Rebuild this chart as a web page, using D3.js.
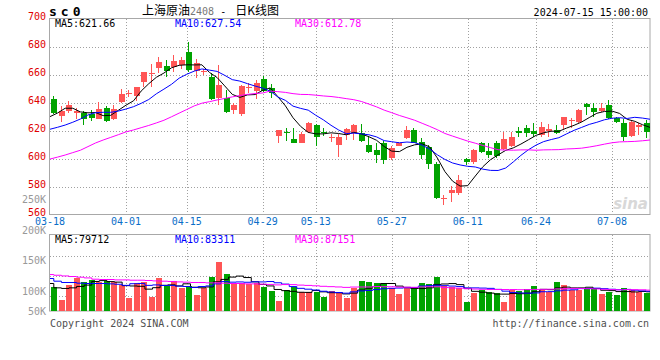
<!DOCTYPE html>
<html><head><meta charset="utf-8">
<script src="https://cdn.jsdelivr.net/npm/d3@7"></script>
<style>body{margin:0;background:#fff}svg{display:block}</style>
</head><body><svg id="c" width="660" height="360"></svg>
<script>
const dates = ["03-18","03-19","03-20","03-21","03-22","03-25","03-26","03-27","03-28","03-29",
"04-01","04-02","04-03","04-08","04-09","04-10","04-11","04-12",
"04-15","04-16","04-17","04-18","04-19","04-22","04-23","04-24","04-25","04-26",
"04-29","04-30","05-06","05-07","05-08","05-09","05-10",
"05-13","05-14","05-15","05-16","05-17","05-20","05-21","05-22","05-23","05-24",
"05-27","05-28","05-29","05-30","05-31","06-03","06-04","06-05","06-06","06-07",
"06-11","06-12","06-13","06-14","06-17","06-18","06-19","06-20","06-21",
"06-24","06-25","06-26","06-27","06-28","07-01","07-02","07-03","07-04","07-05",
"07-08","07-09","07-10","07-11","07-12","07-15"];
const open = [642.4,630.4,634.1,632.3,632.3,631.8,628.4,636.1,628.4,640.4,645.9,644.6,654.6,660.1,664.3,666.1,665.4,666.8,676.1,662.5,661.8,658.4,643.4,643.0,634.6,631.8,650.4,648.4,656.8,650.1,616.1,619.1,613.9,611.3,619.1,623.9,619.1,614.4,609.6,616.5,618.4,618.0,609.6,606.1,610.9,600.1,609.2,614.4,620.4,612.0,608.0,596.1,570.9,575.1,575.1,599.4,597.7,611.3,605.6,610.9,606.6,608.9,619.9,621.5,619.9,616.8,619.9,620.4,623.9,626.8,626.3,638.9,635.9,634.1,638.2,628.7,625.6,616.1,622.7,625.1];
const high = [644.6,637.5,640.8,635.9,634.1,635.0,640.4,637.5,638.0,649.4,648.9,651.3,661.8,667.5,672.3,670.4,673.7,672.7,683.4,671.0,663.7,660.9,667.0,648.9,639.9,652.5,654.1,656.1,658.9,653.2,620.4,621.5,621.5,619.1,626.0,624.6,621.5,617.5,617.5,621.5,624.6,624.6,616.1,610.9,612.7,608.9,612.0,623.2,621.5,614.4,609.6,597.7,573.9,580.4,588.2,600.1,606.6,612.0,610.9,612.7,619.1,619.1,622.3,623.9,625.1,626.3,624.6,623.9,629.9,628.7,635.1,639.9,639.9,639.9,641.8,629.9,628.0,627.0,625.1,627.5];
const low = [631.6,626.3,632.3,628.0,623.9,627.0,628.0,626.3,627.5,639.9,644.1,640.9,651.3,651.3,660.9,658.4,662.0,663.7,662.0,657.3,659.6,641.8,638.3,632.7,631.8,630.4,647.0,642.3,647.7,643.0,611.3,612.7,610.8,610.8,618.5,608.9,616.1,612.0,601.3,613.2,613.2,612.0,604.1,597.0,596.1,598.9,608.9,613.7,610.8,599.4,592.3,570.9,566.8,569.1,573.9,595.4,596.1,603.7,600.1,600.1,606.1,608.4,615.6,615.6,615.6,615.1,615.6,617.5,620.9,621.5,625.1,631.1,629.9,633.4,628.0,625.6,612.7,615.6,616.8,614.4];
const close = [632.3,634.1,638.0,634.1,628.0,628.9,635.1,627.0,635.1,646.1,647.0,650.8,661.8,661.3,669.0,662.3,669.6,670.6,663.2,668.5,662.7,642.3,652.5,633.4,638.2,651.8,651.3,653.7,648.4,647.0,620.4,618.4,611.3,617.5,625.6,615.1,618.4,615.1,615.1,621.0,623.9,612.7,604.9,602.5,598.9,607.3,610.9,620.4,611.3,602.5,596.1,571.6,571.6,577.5,584.6,597.7,606.1,604.9,602.5,601.8,613.7,615.1,618.4,618.0,617.5,622.7,620.9,618.0,629.4,627.5,634.6,636.6,633.4,635.9,628.7,626.3,615.6,626.3,623.9,619.1];
const volume = [100100,45300,107100,138800,118200,127700,120700,124800,118200,107100,54800,114100,118200,58900,137200,104200,123600,96000,103000,65900,93500,140100,203100,152400,114100,114100,110000,114100,98900,82400,41200,85300,100100,79500,79500,79500,58900,82400,78300,54800,96000,123600,119500,115400,115400,96000,70000,93500,90600,115400,111200,140100,103000,98900,93500,37100,75400,85300,79500,72900,37100,86500,82400,90600,103000,86500,79500,119500,107100,86500,86500,93500,93500,70000,79500,65900,93500,86500,79500,72900];
const priceMA5Head = [629.9,632.5,635.9,635.9];
const priceMA10Head = [620.9,622.3,623.9,625.9,628.2,631.1,632.7,633.0,633.0];
const priceMA30Head = [599.6,601.0,602.5,604.2,605.9,608.5,611.1,613.2,615.1,617.0,619.0,620.4,622.0,623.6,625.4,627.3,629.8,632.4,635.0,637.6,639.5,640.6,641.8,642.9,644.0,645.0,645.8,646.4,646.8];
const volMA5Head = [114100,96000,93500,96000];
const volMA10Head = [134700,123600,118200,118200,115400,114100,114100,114100,112500];
const volMA30Head = [151200,148300,145400,143000,140100,137200,131800,130600,130600,129000,129000,127700,127700,126500,124800,123600,122400,120700,119500,118200,118200,116600,116600,115400,114100,114100,112500,112500,111200];
const maNames = ["MA5","MA10","MA30"];
const priceMALegend = ["621.66","627.54","612.78"];
const volMALegend = ["79712","83311","87151"];
const priceTicks = [700,680,660,640,620,600,580,560];
const volTicks = [250000,200000,150000,100000,50000];
const volTickLabels = ["250K","200K","150K","100K","50K"];
const xTickDates = ["03-18","04-01","04-15","04-29","05-13","05-27","06-11","06-24","07-08"];
const titleParts = ["上海原油","2408"," - ","日K线图"];
const symbol = "sc0";
const timestamp = "2024-07-15 15:00:00";
const footerLeft = "Copyright 2024 SINA.COM";
const footerRight = "http://finance.sina.com.cn";

const svg = d3.select("#c");
const MONO = "'DejaVu Sans Mono', monospace";
const RED = "#ff5555", GREEN = "#00a300";
const maColors = ["#000000","#0000ff","#ff00ff"];
const L = 50, R = 650, PT = 18.5, PB = 214.5, VT = 234.5, VB = 311;
const idx = d3.range(dates.length);
const xb = d3.scaleBand().domain(idx).range([L, R]);
const xp = d3.scalePoint().domain(idx).range([L, R]);
const yP = d3.scaleLinear().domain([560,700]).range([PB, PT]);
const yV = d3.scaleLinear().domain([0, 317240]).range([VB, VT]);
const yVLab = d3.scaleLinear().domain([100000,200000]).range([291,230]);

function movingAvg(arr, n, head){
  return arr.map((_, i) => i < n-1 ? head[i] : d3.mean(arr.slice(i-n+1, i+1)));
}
const pMA = [movingAvg(close,5,priceMA5Head), movingAvg(close,10,priceMA10Head), movingAvg(close,30,priceMA30Head)];
const vMA = [movingAvg(volume,5,volMA5Head), movingAvg(volume,10,volMA10Head), movingAvg(volume,30,volMA30Head)];

svg.append("rect").attr("width",660).attr("height",360).attr("fill","#fff");

// grid
const g = svg.append("g").attr("stroke","#a0a0a0").attr("stroke-dasharray","1,2").attr("shape-rendering","crispEdges");
priceTicks.filter(t => t>560 && t<700).forEach(t => {
  const y = Math.round(yP(t))+0.5;
  g.append("line").attr("x1",L).attr("x2",R).attr("y1",y).attr("y2",y);
});
const tickIdx = xTickDates.map(d => dates.indexOf(d));
tickIdx.filter(i => i>0).forEach(i => {
  const x = Math.round(xp(i))+0.5;
  g.append("line").attr("x1",x).attr("x2",x).attr("y1",PT).attr("y2",PB);
  g.append("line").attr("x1",x).attr("x2",x).attr("y1",VT).attr("y2",VB);
});
[0.28,0.54,0.80].forEach(f => {
  const y = Math.round(VT + f*(VB-VT))+0.5;
  g.append("line").attr("x1",L).attr("x2",R).attr("y1",y).attr("y2",y);
});

// borders
svg.append("rect").attr("x",L-0.5).attr("y",PT).attr("width",R-L+0.5).attr("height",PB-PT)
  .attr("fill","none").attr("stroke","#a8a8a8");
svg.append("rect").attr("x",L-0.5).attr("y",VT).attr("width",R-L+0.5).attr("height",VB-VT)
  .attr("fill","none").attr("stroke","#a8a8a8");

// watermark
svg.append("text").attr("x",648).attr("y",209).attr("text-anchor","end")
  .attr("font-family","'DejaVu Sans', sans-serif").attr("font-size",15).attr("font-style","italic")
  .attr("font-weight","bold").attr("fill","#d8d8d8").text("sina");

// candles
const cg = svg.append("g").attr("shape-rendering","crispEdges");
idx.forEach(i => {
  const up = close[i] >= open[i];
  const col = up ? RED : GREEN;
  const cx = Math.floor(xb(i) + xb.bandwidth()/2) + 0.5;
  cg.append("line").attr("x1",cx).attr("x2",cx).attr("y1",yP(high[i])).attr("y2",yP(low[i]))
    .attr("stroke",col);
  const top = yP(Math.max(open[i],close[i])), bot = yP(Math.min(open[i],close[i]));
  cg.append("rect").attr("x",cx-3).attr("width",6).attr("y",top).attr("height",Math.max(1,bot-top))
    .attr("fill",col);
  const vy = yV(volume[i]);
  cg.append("rect").attr("x",cx-3).attr("width",6).attr("y",vy).attr("height",VB-vy).attr("fill",col);
});

// MA lines
pMA.forEach((arr,k) => {
  svg.append("path").datum(arr).attr("fill","none").attr("stroke",maColors[k]).attr("stroke-width",1)
    .attr("d", d3.line().x((d,i)=>xp(i)).y(d=>yP(d)));
});
vMA.forEach((arr,k) => {
  svg.append("path").datum(arr).attr("fill","none").attr("stroke",maColors[k]).attr("stroke-width",1)
    .attr("d", d3.line().curve(d3.curveStep).x((d,i)=>xp(i)).y(d=>yV(d)));
});

// axis labels
priceTicks.forEach(t => {
  svg.append("text").attr("x",46).attr("y",yP(t)+1.4).attr("text-anchor","end")
    .attr("font-family",MONO).attr("font-size",10).attr("fill","#e00000").text(t);
});
volTicks.forEach((t,k) => {
  svg.append("text").attr("x",46).attr("y",Math.min(yVLab(t),311)+3.7).attr("text-anchor","end")
    .attr("font-family",MONO).attr("font-size",10).attr("fill","#999").text(volTickLabels[k]);
});
tickIdx.forEach((i,k) => {
  svg.append("text").attr("x",xp(i)).attr("y",225).attr("text-anchor","middle")
    .attr("font-family",MONO).attr("font-size",10).attr("fill","#0a6ec8").text(xTickDates[k]);
});

// legends
const legX = [55,175,295];
maNames.forEach((n,k) => {
  svg.append("text").attr("x",legX[k]).attr("y",26.5).attr("font-family",MONO).attr("font-size",10)
    .attr("fill",maColors[k]).text(n+":"+priceMALegend[k]);
  svg.append("text").attr("x",legX[k]).attr("y",242.5).attr("font-family",MONO).attr("font-size",10)
    .attr("fill",maColors[k]).text(n+":"+volMALegend[k]);
});

// header
svg.append("text").attr("x",49).attr("y",15.5).attr("font-family",MONO).attr("font-size",13)
  .attr("font-weight","bold").attr("letter-spacing",4).attr("fill","#000").text(symbol);
const t = svg.append("text").attr("x",142).attr("y",14.5).attr("fill","#000");
t.append("tspan").attr("font-family","'Noto Sans CJK SC'").attr("font-size",12).text(titleParts[0]);
t.append("tspan").attr("font-family",MONO).attr("font-size",10).attr("fill","#777").text(titleParts[1]);
t.append("tspan").attr("font-family",MONO).attr("font-size",10).style("white-space","pre").text(titleParts[2]);
t.append("tspan").attr("dx",3).attr("font-family","'Noto Sans CJK SC'").attr("font-size",12).text(titleParts[3]);
svg.append("text").attr("x",648).attr("y",15.5).attr("text-anchor","end").attr("font-family",MONO)
  .attr("font-size",10).attr("fill","#000").text(timestamp);

// footer
svg.append("text").attr("x",50).attr("y",327).attr("font-family",MONO).attr("font-size",10)
  .attr("fill","#505050").text(footerLeft);
svg.append("text").attr("x",649).attr("y",327).attr("text-anchor","end").attr("font-family",MONO)
  .attr("font-size",10).attr("fill","#505050").text(footerRight);
</script></body></html>
